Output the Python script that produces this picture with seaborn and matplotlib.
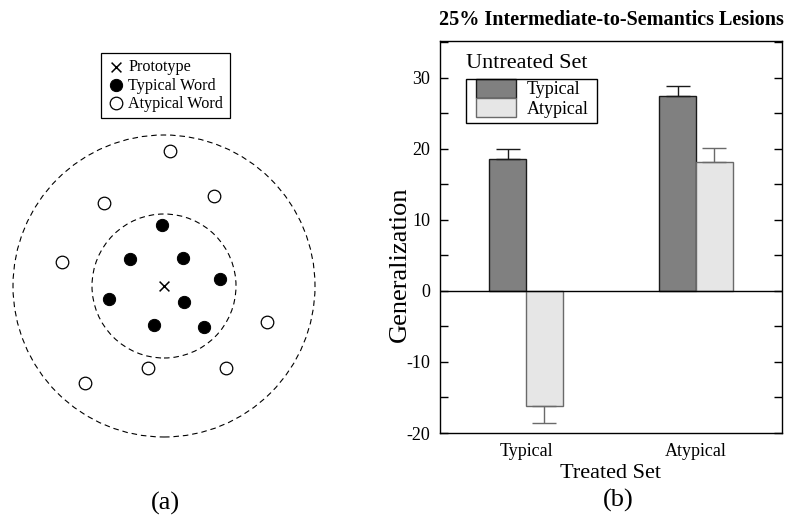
import numpy as np
import pandas as pd
import matplotlib
matplotlib.use("Agg")
import matplotlib.pyplot as plt
import seaborn as sns
from matplotlib.patches import Circle, Patch, Rectangle
from matplotlib.ticker import MultipleLocator

# ---------------- Panel (a) data: positions relative to the prototype ----------------
proto_x = [0]
proto_y = [0]
typical_x = [-2, -34, 19, 56, -55, 20, -10, 40]
typical_y = [61, 27, 28, 7, -13, -16, -39, -41]
atypical_x = [6, 50, -60, -102, 103, -16, 62, -79]
atypical_y = [135, 90, 83, 24, -36, -82, -82, -97]
circle_radii = [72, 151]
legend_a_labels = ["Prototype", "Typical Word", "Atypical Word"]

# ---------------- Panel (b) data ----------------
treated_sets = ["Typical", "Atypical"]
untreated_sets = ["Typical", "Atypical"]
gen_untreated_typical = [18.6, 27.5]
gen_untreated_atypical = [-16.2, 18.1]
err_untreated_typical = [1.4, 1.3]
err_untreated_atypical = [2.4, 2.1]
title_b = "25% Intermediate-to-Semantics Lesions"

dark = "#808080"
light = "#e6e6e6"
dark_edge = "#1a1a1a"
light_edge = "#6a6a6a"

sns.set_style("ticks", rc={
    "axes.edgecolor": "black", "text.color": "black",
    "xtick.color": "black", "ytick.color": "black",
    "axes.labelcolor": "black",
})
plt.rcParams["font.family"] = ["Liberation Serif", "DejaVu Serif"]
plt.rcParams["axes.unicode_minus"] = False
plt.rcParams["axes.linewidth"] = 1.0

W, H = 788, 516
fig = plt.figure(figsize=(W / 100, H / 100), dpi=100)


def fx(px):
    return px / W


def fy(py):
    return 1 - py / H


# ================= Panel (a) =================
ax_a = fig.add_axes([0, 0, 330 / W, 1])
ax_a.set_xlim(-164, 166)
ax_a.set_ylim(-230, 286)
ax_a.axis("off")
for r in circle_radii:
    ax_a.add_patch(Circle((0, 0), r, fill=False, ec="black", lw=0.8,
                          ls=(0, (5, 3.5))))
sns.scatterplot(x=proto_x, y=proto_y, marker="x", s=50, color="black",
                linewidth=1.1, ax=ax_a, label=legend_a_labels[0], zorder=3)
sns.scatterplot(x=typical_x, y=typical_y, marker="o", s=78, color="black",
                edgecolor="black", ax=ax_a, label=legend_a_labels[1], zorder=3)
sns.scatterplot(x=atypical_x, y=atypical_y, marker="o", s=82, color="white",
                edgecolor="black", linewidth=0.9, ax=ax_a,
                label=legend_a_labels[2], zorder=3)
leg_a = ax_a.legend(loc="upper left", bbox_to_anchor=(fx(101), fy(53)),
                    bbox_transform=fig.transFigure, borderaxespad=0,
                    frameon=True, fancybox=False, edgecolor="black",
                    framealpha=1, fontsize=11.6, handlelength=1.0,
                    handletextpad=0.3, borderpad=0.4, labelspacing=0.13,
                    scatterpoints=1, markerscale=1.0)
leg_a.get_frame().set_linewidth(0.9)

# ================= Panel (b) =================
ax_b = fig.add_axes([fx(440), fy(433), 342 / W, (433 - 41) / H])
df = pd.DataFrame({
    "Treated Set": treated_sets * 2,
    "Untreated Set": [untreated_sets[0]] * 2 + [untreated_sets[1]] * 2,
    "Generalization": gen_untreated_typical + gen_untreated_atypical,
})
sns.barplot(data=df, x="Treated Set", y="Generalization", hue="Untreated Set",
            order=treated_sets, hue_order=untreated_sets,
            palette=[dark, light], saturation=1, width=0.43, errorbar=None,
            legend=False, linewidth=1.0, ax=ax_b, zorder=2)

errs = [err_untreated_typical, err_untreated_atypical]
edges = [dark_edge, light_edge]
for cont, errl, ec in zip(ax_b.containers, errs, edges):
    for bar, val, e in zip(cont, cont.datavalues, errl):
        bar.set_edgecolor(ec)
        x = bar.get_x() + bar.get_width() / 2
        yerr = [[0], [e]] if val >= 0 else [[e], [0]]
        ax_b.errorbar([x], [val], yerr=yerr, fmt="none", ecolor=ec,
                      elinewidth=1.0, capsize=8.3, capthick=1.0, zorder=3)

ax_b.axhline(0, color="black", lw=1.0, zorder=2.5)
ax_b.set_xlim(-0.506, 1.506)
ax_b.set_ylim(-20, 35.2)
ax_b.set_yticks([-20, -10, 0, 10, 20, 30])
ax_b.yaxis.set_minor_locator(MultipleLocator(5))
ax_b.tick_params(axis="y", which="both", direction="in", length=6, width=1,
                 left=True, right=True, labelsize=13, pad=7)
ax_b.tick_params(axis="x", length=0, labelsize=13, pad=7)
for spine in ax_b.spines.values():
    spine.set_visible(True)
    spine.set_color("black")

ax_b.set_xlabel("Treated Set", fontsize=16, labelpad=3)
ax_b.set_ylabel("Generalization", fontsize=19)
ax_b.yaxis.set_label_coords(-0.085, 0.43)
ax_b.set_title(title_b, fontsize=14.5, fontweight="bold", pad=11.5)

handles = [Patch(facecolor=dark, edgecolor=dark_edge, lw=1, label=untreated_sets[0]),
           Patch(facecolor=light, edgecolor=light_edge, lw=1, label=untreated_sets[1])]
ax_b.legend(handles=handles, loc="upper left", bbox_to_anchor=(fx(476), fy(79)),
            bbox_transform=fig.transFigure, frameon=False, borderpad=0,
            borderaxespad=0, labelspacing=0, handlelength=2.22,
            handleheight=1.22, handletextpad=0.6, fontsize=13)
fig.add_artist(Rectangle((fx(466), fy(123)), 131 / W, 44 / H,
                         transform=fig.transFigure, fill=False, ec="black",
                         lw=1.0))
fig.text(fx(466), fy(63), "Untreated Set", fontsize=16, ha="left", va="center")

fig.text(fx(165), fy(503), "(a)", fontsize=19, ha="center", va="center")
fig.text(fx(618), fy(500), "(b)", fontsize=19, ha="center", va="center")

fig.savefig("out.png", dpi=100)
